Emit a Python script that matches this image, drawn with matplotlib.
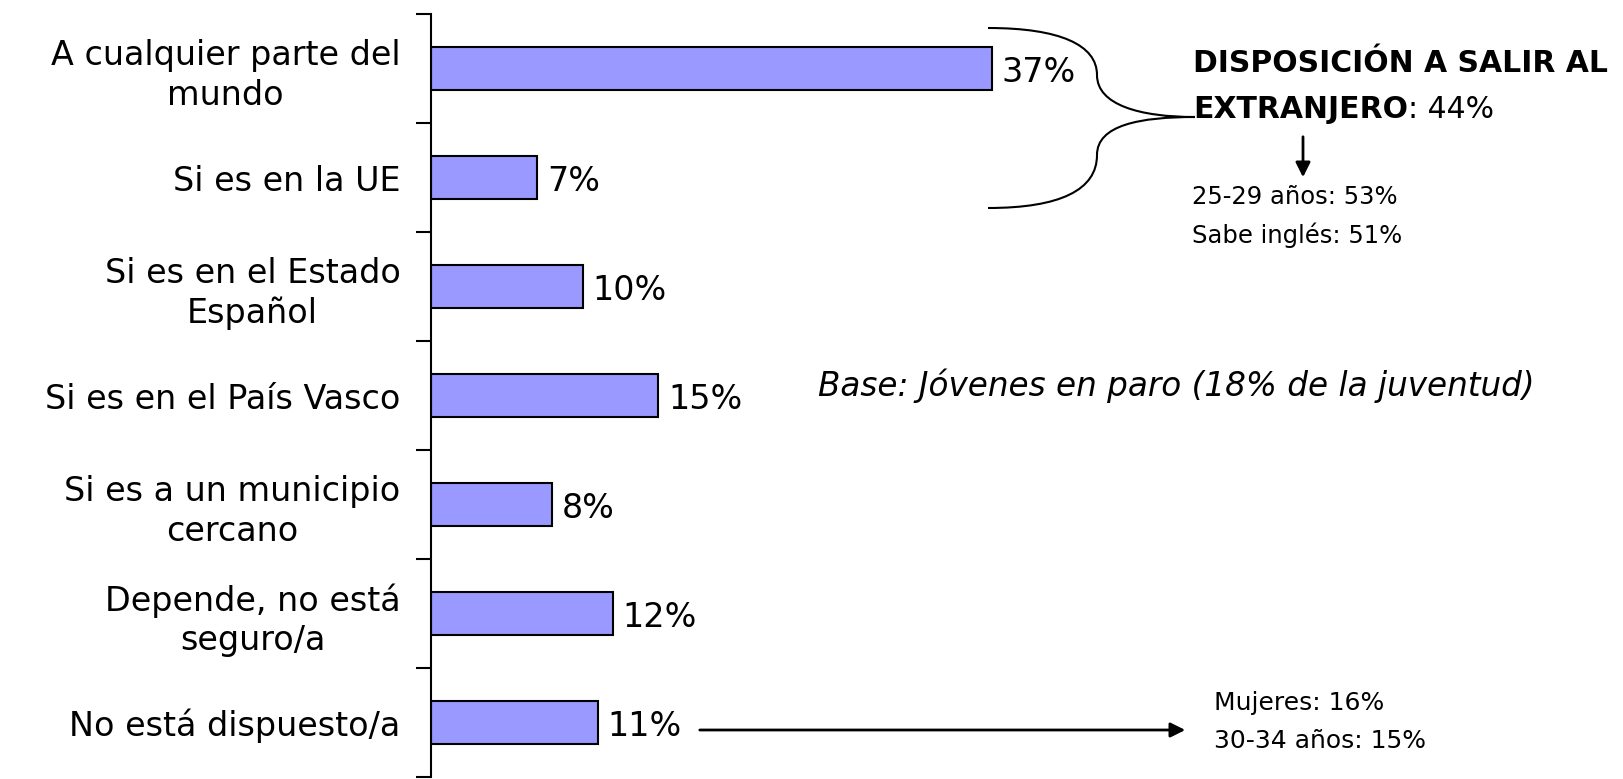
import matplotlib
matplotlib.use("Agg")
import matplotlib.pyplot as plt
from matplotlib.path import Path
from matplotlib.patches import PathPatch

categories = ["A cualquier parte del\nmundo", "Si es en la UE", "Si es en el Estado\nEspañol",
              "Si es en el País Vasco", "Si es a un municipio\ncercano", "Depende, no está\nseguro/a",
              "No está dispuesto/a"]
values = [37, 7, 10, 15, 8, 12, 11]
value_labels = ["37%", "7%", "10%", "15%", "8%", "12%", "11%"]

W, H = 1623, 779
fig = plt.figure(figsize=(W / 100, H / 100), dpi=100)
plt.rcParams['font.family'] = ['DejaVu Sans']

def fx(px):
    return px / W

def fy(py):
    return 1 - py / H

ax_left, ax_top, ax_bottom = 431, 14, 777
ax = fig.add_axes([fx(ax_left), fy(ax_bottom), 1 - fx(ax_left), (ax_bottom - ax_top) / H])
n = len(categories)
ypos = list(range(n))
ax.barh(ypos, values, height=0.4, color="#9999FF", edgecolor="black", linewidth=1.5)
ax.set_ylim(n - 0.5, -0.5)
ax.set_xlim(0, (W - ax_left) / 15.15)
for s in ["top", "right", "bottom"]:
    ax.spines[s].set_visible(False)
ax.spines["left"].set_linewidth(1.5)
ax.set_xticks([])
ax.set_yticks([i - 0.5 for i in range(n + 1)])
ax.set_yticklabels([])
ax.tick_params(axis="y", which="major", length=11, width=1.5, direction="out")
ax.set_yticks(ypos, minor=True)
ax.set_yticklabels(categories, minor=True, fontsize=24, ha="right", linespacing=1.25)
ax.tick_params(axis="y", which="minor", length=0, pad=22)
for lbl in ax.get_yticklabels(minor=True):
    lbl.set_multialignment("center")

for y, v, t in zip(ypos, values, value_labels):
    ax.annotate(t, (v, y), xytext=(7, -3), textcoords="offset points", va="center", ha="left",
                fontsize=24)

# Arrow from 11% label
ax.annotate("", xy=(fx(1188), fy(730)), xycoords=fig.transFigure,
            xytext=(fx(697), fy(730)), textcoords=fig.transFigure,
            arrowprops=dict(arrowstyle="-|>", color="black", lw=2, mutation_scale=22))
fig.text(fx(1214), fy(703), "Mujeres: 16%", fontsize=18, va="center", ha="left")
fig.text(fx(1214), fy(741), "30-34 años: 15%", fontsize=18, va="center", ha="left")

# Base text
fig.text(fx(818), fy(386), "Base: Jóvenes en paro (18% de la juventud)", fontsize=23.5,
         style="italic", va="center", ha="left")

# Title block
fig.text(fx(1193), fy(64), "DISPOSICIÓN A SALIR AL", fontsize=21.5, fontweight="bold",
         va="center", ha="left")
t1 = fig.text(fx(1193), fy(110), "EXTRANJERO", fontsize=21.5, fontweight="bold",
              va="center", ha="left")
fig.canvas.draw()
bb = t1.get_window_extent()
fig.text(bb.x1 / W, fy(110), ": 44%", fontsize=21.5, va="center", ha="left")

ax.annotate("", xy=(fx(1303), fy(180)), xycoords=fig.transFigure,
            xytext=(fx(1303), fy(134)), textcoords=fig.transFigure,
            arrowprops=dict(arrowstyle="-|>", color="black", lw=2, mutation_scale=22))
fig.text(fx(1192), fy(197), "25-29 años: 53%", fontsize=17.5, va="center", ha="left")
fig.text(fx(1192), fy(235), "Sabe inglés: 51%", fontsize=17.5, va="center", ha="left")

# Curly brace
def P(x, y):
    return (fx(x), fy(y))

verts = [P(988, 28),
         P(1060, 28), P(1097, 45), P(1097, 75),
         P(1097, 105), P(1140, 117), P(1195, 117),
         P(1140, 117), P(1097, 125), P(1097, 155),
         P(1097, 190), P(1060, 208), P(988, 208)]
codes = [Path.MOVETO] + [Path.CURVE4] * 12
brace = PathPatch(Path(verts, codes), transform=fig.transFigure, fill=False,
                  edgecolor="black", linewidth=1.5)
fig.patches.append(brace)

fig.savefig("out.png", dpi=100)
